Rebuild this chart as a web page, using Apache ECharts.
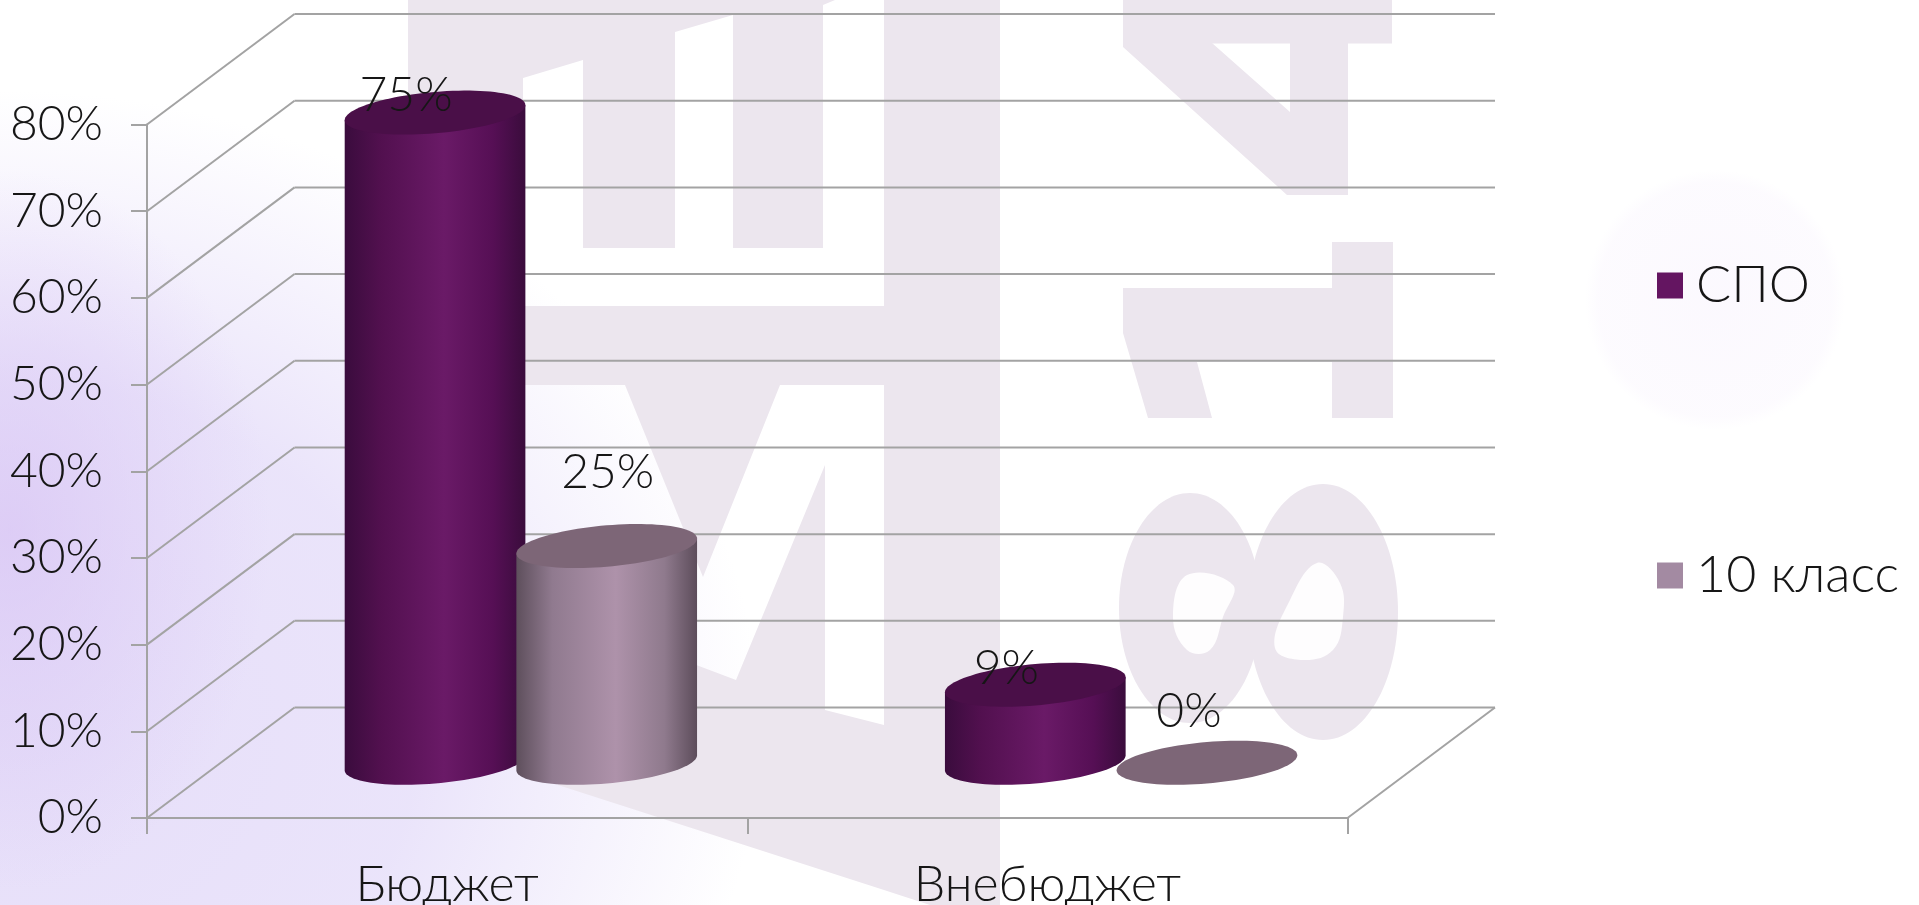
<!DOCTYPE html>
<html>
<head>
<meta charset="utf-8">
<style>
html,body{margin:0;padding:0;width:100%;height:100%;overflow:hidden;background:
 radial-gradient(ellipse 260px 360px at 10px 530px, rgba(216,196,244,.7), rgba(216,196,244,0) 100%),
 radial-gradient(ellipse 760px 640px at 0px 730px, rgba(230,222,249,1), rgba(232,225,250,.9) 55%, rgba(244,240,253,0) 100%),
 radial-gradient(circle 130px at 1715px 300px, rgba(251,248,254,.9), rgba(251,248,254,.6) 90%, rgba(251,248,254,0) 100%),
 #ffffff;}
#chart{width:1919px;height:905px;}
</style>
</head>
<body>
<div id="chart"></div>
<script src="https://cdn.jsdelivr.net/npm/echarts@6/dist/echarts.min.js"></script>
<script>
const categories = ['Бюджет', 'Внебюджет'];
const seriesNames = ['СПО', '10 класс'];
const spoValues = [75, 9];
const classValues = [25, 0];
const yTicks = [0, 10, 20, 30, 40, 50, 60, 70, 80];

const FONT = 'Lato, Roboto, sans-serif';
const TEXT = '#161616';
const DEPTH = {dx: 147.5, dy: -110.5};
const BAR = {offset: [-0.143, 0.143], width: 0.301, shear: 7.5, minor: 20.7};
const LABEL_OFFSET = [[[-29, -17], [-29, -16.5]], [[1, -74], [-18, -51]]];
const SKIN = [
  {swatch: '#641561', top: '#4a0f48',
   stops: ['#3a0c3d', '#52104f', '#6a1a67', '#560f55', '#3a0c3c']},
  {swatch: '#a38aa2', top: '#7d6677',
   stops: ['#5e4f5c', '#907a8f', '#ae92aa', '#8f7a8d', '#5d4d5b']}
];
const STOP_AT = [0, 0.2, 0.55, 0.82, 1];

const GREY = '#ece6ee';
const HOLE = '#fefdfe';
const wm = (points, fill, smooth) => ({type: 'polygon', silent: true,
  shape: {points, smooth: smooth || 0}, style: {fill: fill || GREY}});
const watermark = [
  wm([[408,0],[835,0],[823,5],[823,248],[733,248],[733,15],[675,32],[675,248],[583,248],[583,60],[523,78],[523,248],[408,248]]),
  wm([[408,306],[884,306],[884,385],[780,385],[703,577],[625,385],[408,385]]),
  wm([[540,606],[736,680],[825,465],[825,710],[884,725],[884,890],[558,785]]),
  wm([[884,0],[1000,0],[1000,905],[930,905],[884,890]]),
  wm([[1123,0],[1392,0],[1392,43.5],[1123,43.5]]),
  wm([[1123,43],[1212,43],[1290,112],[1290,43],[1348,43],[1348,195],[1287,195],[1123,47]]),
  wm([[1332,242],[1393,242],[1393,418],[1332,418],[1332,362],[1197,362],[1212,418],[1148,418],[1123,333],[1123,288],[1332,288]]),
  {type:'ellipse', silent:true, shape:{cx:1190,cy:608,rx:71,ry:115}, style:{fill:GREY}},
  {type:'ellipse', silent:true, shape:{cx:1323,cy:612,rx:75,ry:128}, style:{fill:GREY}},
  wm([[1187,575],[1233,585],[1223,617],[1210,650],[1187,650],[1173,617]], HOLE, 0.4),
  wm([[1317,563],[1340,583],[1343,617],[1333,650],[1303,660],[1275,648],[1290,600]], HOLE, 0.4)
].map((e, i) => { e.z = -4; e.z2 = i; return e; });

function cylinder(si) {
  return function (params, api) {
    const cat = api.value(0), val = api.value(1);
    const band = api.size([1, 0])[0];
    const base = api.coord([cat, 0]), top = api.coord([cat, val]);
    const cx = base[0] + DEPTH.dx / 2 + BAR.offset[si] * band;
    const by = base[1] + DEPTH.dy / 2, ty = top[1] + DEPTH.dy / 2;
    const rx = BAR.width * band / 2;
    const pt = (t, cy) => [cx + rx * Math.cos(t), cy - BAR.shear * Math.cos(t) + BAR.minor * Math.sin(t)];
    const children = [];
    const skin = SKIN[si];
    if (val > 0) {
      const body = [];
      for (let i = 0; i <= 48; i++) body.push(pt(Math.PI - Math.PI * i / 48, by));
      body.push(pt(0, ty));
      body.push(pt(Math.PI, ty));
      children.push({type: 'polygon', shape: {points: body}, style: {
        fill: new echarts.graphic.LinearGradient(0, 0, 1, 0,
          STOP_AT.map((o, i) => ({offset: o, color: skin.stops[i]})))
      }});
    }
    const cap = [];
    for (let i = 0; i < 96; i++) cap.push(pt(2 * Math.PI * i / 96, ty));
    children.push({type: 'polygon', shape: {points: cap}, style: {fill: skin.top}});
    const off = LABEL_OFFSET[si][cat];
    children.push({type: 'text', z2: 50, style: {
      x: cx + off[0], y: ty + off[1], text: val + '%', align: 'center', verticalAlign: 'middle',
      font: '300 48px ' + FONT, fill: TEXT
    }});
    return {type: 'group', children};
  };
}

function walls(params, api) {
  const tick = api.value(1);
  const y = api.coord([0, tick])[1];
  const cs = params.coordSys;
  const L = cs.x, R = cs.x + cs.width;
  const line = {stroke: '#a3a3a3', lineWidth: 2};
  const children = [
    {type: 'line', shape: {x1: L, y1: y, x2: L + DEPTH.dx, y2: y + DEPTH.dy}, style: line},
    {type: 'line', shape: {x1: L + DEPTH.dx, y1: y + DEPTH.dy, x2: R + DEPTH.dx, y2: y + DEPTH.dy}, style: line}
  ];
  if (tick === 0) children.push({type: 'line', shape: {x1: R, y1: y, x2: R + DEPTH.dx, y2: y + DEPTH.dy}, style: line});
  return {type: 'group', children};
}

const chart = echarts.init(document.getElementById('chart'), null, {renderer: 'canvas'});
const axisText = {fontFamily: FONT, fontWeight: 300, fontSize: 50, color: TEXT};
chart.setOption({
  animation: false,
  backgroundColor: 'transparent',
  graphic: {elements: watermark},
  grid: {left: 147, right: 571.5, top: 124.5, bottom: 87, outerBoundsMode: 'none'},
  legend: {
    orient: 'vertical', left: 1652, top: 254.5, itemWidth: 26, itemHeight: 26, itemGap: 238,
    selectedMode: false, icon: 'rect',
    data: seriesNames,
    textStyle: Object.assign({}, axisText, {fontSize: 52, padding: [0, 0, 0, 8]})
  },
  xAxis: {
    type: 'category', data: categories,
    axisLine: {lineStyle: {color: '#a3a3a3', width: 2}},
    axisTick: {show: true, alignWithLabel: false, length: 16, lineStyle: {color: '#a3a3a3', width: 2}},
    axisLabel: Object.assign({}, axisText, {margin: 42})
  },
  yAxis: {
    type: 'value', min: 0, max: 80, interval: 10,
    splitLine: {show: false},
    axisLine: {show: true, lineStyle: {color: '#a3a3a3', width: 2}},
    axisTick: {show: true, length: 16, lineStyle: {color: '#a3a3a3', width: 2}},
    axisLabel: Object.assign({}, axisText, {fontSize: 48, margin: 44, formatter: '{value}%', padding: [8, 0, 0, 0]})
  },
  series: [
    {name: 'walls', type: 'custom', z: 1, silent: true, renderItem: walls,
     data: yTicks.map(t => [0, t])},
    {name: seriesNames[0], type: 'custom', z: 3, itemStyle: {color: SKIN[0].swatch}, renderItem: cylinder(0),
     data: spoValues.map((v, i) => [i, v])},
    {name: seriesNames[1], type: 'custom', z: 4, itemStyle: {color: SKIN[1].swatch}, renderItem: cylinder(1),
     data: classValues.map((v, i) => [i, v])}
  ]
});
</script>
</body>
</html>
